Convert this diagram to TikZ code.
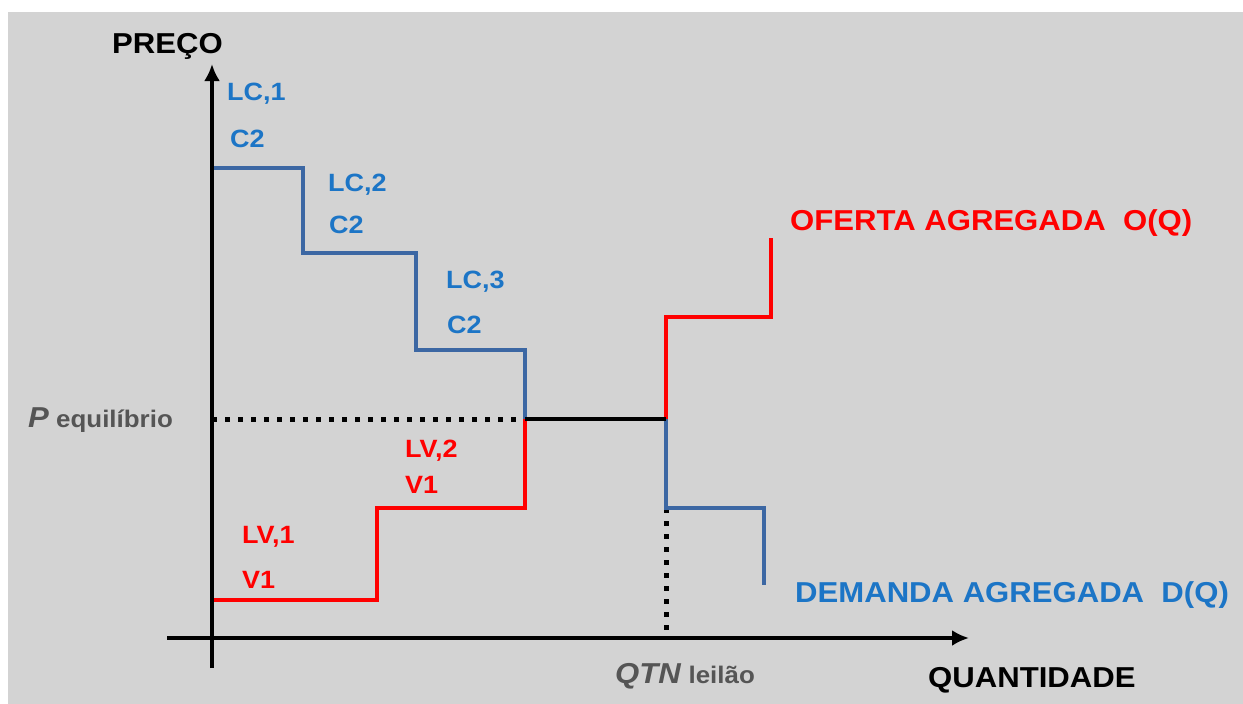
\documentclass[tikz,border=0pt]{standalone}
\usepackage{fontspec}
\setmainfont{Liberation Sans}[FakeStretch=1.08]
\usetikzlibrary{arrows.meta}
\definecolor{bg}{HTML}{D3D3D3}
\definecolor{bline}{HTML}{3C67A3}
\definecolor{btext}{HTML}{1C75C6}
\definecolor{rline}{HTML}{FF0000}
\definecolor{gtext}{HTML}{555555}
\tikzset{
  lbl/.style={anchor=base west,inner sep=0pt,font=\fontsize{25}{30}\selectfont\bfseries},
  big/.style={anchor=base west,inner sep=0pt,font=\fontsize{28.8}{34}\selectfont\bfseries},
  axis/.style={line width=4.5pt,-{Latex[length=17pt,width=16pt]}},
  demand/.style={line width=4.5pt,bline},
  supply/.style={line width=4.5pt,rline},
  dotline/.style={line width=5pt,dash pattern=on 5pt off 8pt},
}
\begin{document}
\begin{tikzpicture}[x=1pt,y=-1pt]
\useasboundingbox (0,0) rectangle (1243,704);
\fill[white] (0,0) rectangle (1243,704);
\fill[bg] (8,12) rectangle (1243,704);
% axes
\coordinate (yb) at (212,668);
\coordinate (yt) at (212,64);
\coordinate (xl) at (167,638);
\coordinate (xr) at (969,638);
% demand points
\coordinate (d0) at (212,168);
\coordinate (d1) at (303,168);
\coordinate (d2) at (303,253);
\coordinate (d3) at (416,253);
\coordinate (d4) at (416,350);
\coordinate (d5) at (525,350);
\coordinate (eq1) at (525,419);
\coordinate (eq2) at (666,419);
\coordinate (d6) at (666,508);
\coordinate (d7) at (764,508);
\coordinate (d8) at (764,585);
% supply points
\coordinate (s0) at (212,600);
\coordinate (s1) at (377,600);
\coordinate (s2) at (377,508);
\coordinate (s3) at (525,508);
\coordinate (s4) at (666,317);
\coordinate (s5) at (771,317);
\coordinate (s6) at (771,238);
\coordinate (peq) at (212,419);
\coordinate (qax) at (666,636);
% dotted guides
\draw[dotline] (peq) -- (eq1);
\draw[dotline] (d6) -- (qax);
% curves
\draw[supply,line join=miter] (s0) -- (s1) -- (s2) -- (s3) -- (eq1);
\draw[supply,line join=miter] (eq2) -- (s4) -- (s5) -- (s6);
\draw[demand,line join=miter] (d0) -- (d1) -- (d2) -- (d3) -- (d4) -- (d5) -- (eq1);
\draw[demand,line join=miter] (eq2) -- (d6) -- (d7) -- (d8);
\draw[line width=4.5pt] (eq1) -- (eq2);
\draw[axis] (yb) -- (yt);
\draw[axis] (xl) -- (xr);
% labels
\node[big] (preco) at (112,53) {PREÇO};
\node[big] (quant) at (928,687) {QUANTIDADE};
\node[big,gtext] (pe) at (28,427) {\itshape P\/\fontsize{24}{28}\selectfont\upshape\ equilíbrio};
\node[big,gtext] (qtn) at (615,683) {\itshape QTN\/\fontsize{24}{28}\selectfont\upshape\ leilão};
\node[big,rline] (oferta) at (790,230) {OFERTA AGREGADA\ \ O(Q)};
\node[big,btext] (demanda) at (795,602) {DEMANDA AGREGADA\ \ D(Q)};
\node[lbl,btext] (lc1) at (227,100) {LC,1};
\node[lbl,btext] (c21) at (230,147) {C2};
\node[lbl,btext] (lc2) at (328,191) {LC,2};
\node[lbl,btext] (c22) at (329,233) {C2};
\node[lbl,btext] (lc3) at (446,288) {LC,3};
\node[lbl,btext] (c23) at (447,333) {C2};
\node[lbl,rline] (lv2) at (405,457) {LV,2};
\node[lbl,rline] (v12) at (405,493) {V1};
\node[lbl,rline] (lv1) at (242,543) {LV,1};
\node[lbl,rline] (v11) at (242,588) {V1};
\end{tikzpicture}
\end{document}
